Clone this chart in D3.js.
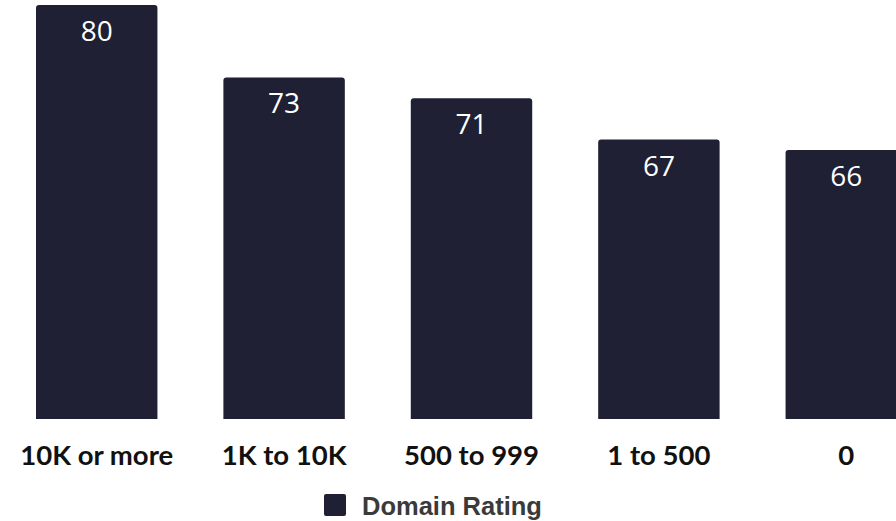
<!DOCTYPE html>
<html>
<head>
<meta charset="utf-8">
<script src="https://cdn.jsdelivr.net/npm/d3@7"></script>
<style>
  html, body { margin: 0; padding: 0; background: #fff; overflow: hidden; }
  svg { display: block; }
</style>
</head>
<body>
<div id="chart"></div>
<script>
// data
var categories = ['10K or more', '1K to 10K', '500 to 999', '1 to 500', '0'];
var domainRating = [80, 73, 71, 67, 66];
var seriesName = 'Domain Rating';

var width = 896,
    height = 521,
    barColor = '#1f2033';

var svg = d3.select('#chart').append('svg')
    .attr('width', width)
    .attr('height', height);

// band runs past the right edge so the last bar gets cut off like the original
var x = d3.scaleBand()
    .domain(categories)
    .range([36, 907])
    .paddingInner(0.352)
    .paddingOuter(0);

var y = d3.scaleLinear()
    .domain([40, 80])
    .range([419, 5]);

// bar with rounded top corners only
function topRounded(x0, y0, w, h, r) {
  return 'M' + x0 + ',' + (y0 + h) +
    'V' + (y0 + r) +
    'Q' + x0 + ',' + y0 + ' ' + (x0 + r) + ',' + y0 +
    'H' + (x0 + w - r) +
    'Q' + (x0 + w) + ',' + y0 + ' ' + (x0 + w) + ',' + (y0 + r) +
    'V' + (y0 + h) + 'Z';
}

var data = categories.map((c, i) => ({cat: c, value: domainRating[i]}));

svg.selectAll('.bar')
  .data(data)
  .enter().append('path')
    .attr('class', 'bar')
    .attr('fill', barColor)
    .attr('d', (d) => topRounded(x(d.cat), y(d.value), x.bandwidth(), y.range()[0] - y(d.value), 3));

svg.selectAll('.value')
  .data(data)
  .enter().append('text')
    .attr('class', 'value')
    .attr('x', (d) => x(d.cat) + x.bandwidth() / 2)
    .attr('y', (d) => y(d.value) + 36)
    .attr('text-anchor', 'middle')
    .attr('fill', '#fff')
    .style('font-family', '"Open Sans", sans-serif')
    .style('font-size', '28px')
    .text((d) => d.value);

// x axis, labels only
var xAxis = d3.axisBottom(x).tickSize(0).tickPadding(0);
var gx = svg.append('g')
    .attr('transform', 'translate(0,' + 465 + ')')
    .call(xAxis);
gx.select('.domain').remove();
gx.selectAll('text')
    .attr('dy', 0)
    .attr('y', 0)
    .attr('fill', '#111')
    .style('font-family', 'Lato, sans-serif')
    .style('font-weight', '700')
    .style('font-size', '27.5px');

// legend
var legend = svg.append('g').attr('transform', 'translate(324,494)');
legend.append('rect')
    .attr('width', 22).attr('height', 22)
    .attr('rx', 2)
    .attr('fill', barColor);
legend.append('text')
    .attr('x', 38)
    .attr('y', 21)
    .attr('fill', '#3a3a3a')
    .style('font-family', '"Liberation Sans", Arial, sans-serif')
    .style('font-weight', '700')
    .style('font-size', '25.5px')
    .text(seriesName);
</script>
</body>
</html>
